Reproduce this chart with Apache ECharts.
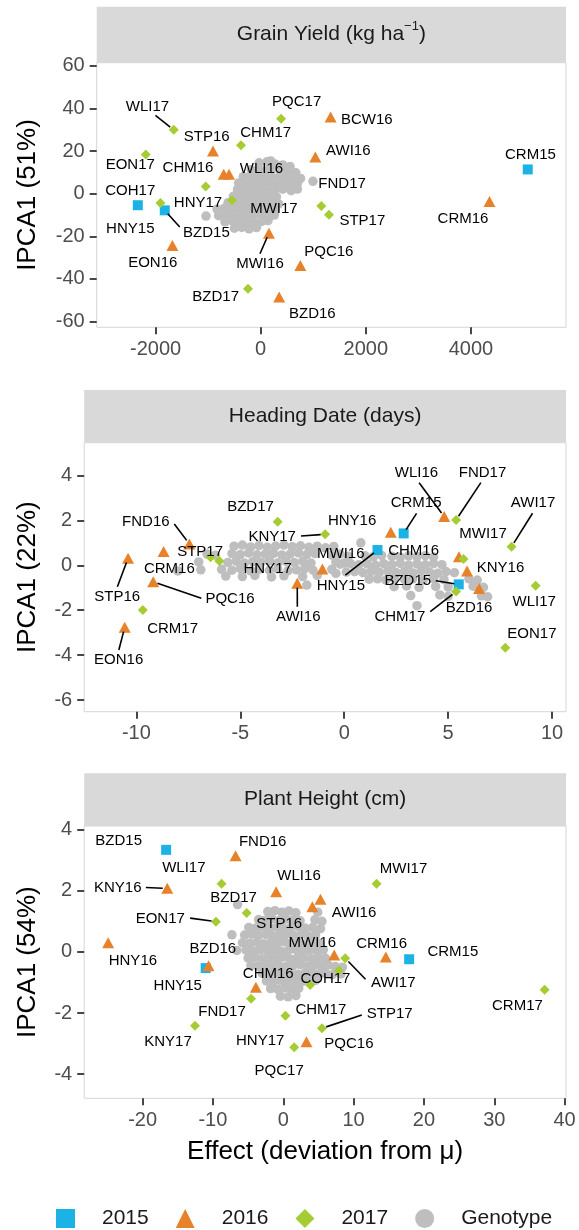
<!DOCTYPE html>
<html>
<head>
<meta charset="utf-8">
<script src="https://cdn.jsdelivr.net/npm/echarts@6/dist/echarts.min.js"></script>
<style>
  html, body { margin: 0; padding: 0; background: #fff; }
  #chart { width: 579px; height: 1230px; }
</style>
</head>
<body>
<div id="chart"></div>
<script>
const FONT = '"Liberation Sans", Arial, Helvetica, sans-serif';
const COLORS = { '2015': '#1BB3E6', '2016': '#E8822A', '2017': '#A6CC33', 'Genotype': '#BEBEBE' };

// ---------- Grain Yield (kg ha-1) ----------
const gyNames2015 = ['HNY15', 'BZD15', 'CRM15'];
const gyX2015 = [-2338, -1825, 5082];
const gyY2015 = [-5.4, -7.8, 11.4];
const gyNames2016 = ['STP16', 'CHM16', 'WLI16', 'AWI16', 'BCW16', 'MWI16', 'PQC16', 'BZD16', 'EON16', 'CRM16'];
const gyX2016 = [-907, -703, -602, 1040, 1331, 158, 755, 352, -1679, 4354];
const gyY2016 = [20, 9.1, 9.1, 17.2, 36, -18.5, -33.7, -48.5, -24.3, -3.6];
const gyNames2017 = ['WLI17', 'EON17', 'COH17', 'HNY17', 'MWI17', 'CHM17', 'PQC17', 'FND17', 'STP17', 'BZD17'];
const gyX2017 = [-1654, -2186, -1907, -1046, -545, -374, 388, 1154, 1299, -241];
const gyY2017 = [30, 18.4, -4.4, 3.4, -3.1, 22.7, 35.2, -5.8, -9.9, -44.6];
const gyGenotypes = [
  [-30,14.5],[120,15],[270,14],[420,13.5],[560,12.8],[190,15.4],
  [-180,11.2],[-40,11.5],[100,11],[240,11.8],[390,10.6],[530,10.2],[670,9.8],
  [-330,8],[-190,8.4],[-60,7.8],[80,8.2],[220,7.6],[360,8.3],[500,7.5],[640,7.9],[760,7.2],
  [-420,5],[-280,4.6],[-140,5.2],[0,4.8],[140,5.4],[280,4.5],[420,5.1],[560,4.4],[700,4.9],
  [-440,2],[-300,1.6],[-160,2.3],[-20,1.8],[120,2.4],[260,1.5],[420,2.1],[580,1.4],[700,2.2],
  [-520,-1.2],[-380,-0.8],[-240,-1.4],[-100,-0.9],[40,-1.3],[180,-0.7],[300,-1.5],
  [-620,-4.2],[-480,-3.8],[-340,-4.4],[-200,-3.9],[-60,-4.5],[80,-3.7],[220,-4.3],[340,-4.8],
  [-830,-7.2],[-690,-6.8],[-550,-7.4],[-410,-6.9],[-270,-7.5],[-130,-6.7],[10,-7.3],[150,-7],[280,-7.6],
  [-800,-10.3],[-660,-9.8],[-520,-10.4],[-380,-9.9],[-240,-10.5],[-100,-9.7],[40,-10.2],[170,-10.6],[260,-10],
  [-680,-13.2],[-540,-12.8],[-400,-13.4],[-260,-12.9],[-120,-13.5],[20,-13],[140,-12.6],
  [-500,-16.2],[-360,-15.8],[-220,-16.5],[-80,-15.9],
  [-1040,-10.5],[995,5.8]
];
const gyXTicks = [-2000, 0, 2000, 4000];
const gyYTicks = [-60, -40, -20, 0, 20, 40, 60];

// ---------- Heading Date (days) ----------
const hdNames2015 = ['HNY15', 'CRM15', 'BZD15'];
const hdX2015 = [1.60, 2.86, 5.51];
const hdY2015 = [0.68, 1.42, -0.85];
const hdNames2016 = ['STP16', 'EON16', 'CRM16', 'PQC16', 'FND16', 'MWI16', 'AWI16', 'HNY16', 'WLI16', 'CHM16', 'KNY16', 'BZD16'];
const hdX2016 = [-10.40, -10.56, -8.69, -9.19, -7.45, -1.05, -2.26, 2.24, 4.81, 5.52, 5.91, 6.49];
const hdY2016 = [0.31, -2.76, 0.61, -0.73, 0.95, -0.16, -0.80, 1.47, 2.17, 0.38, -0.25, -1.03];
const hdNames2017 = ['STP17', 'HNY17', 'BZD17', 'KNY17', 'CRM17', 'FND17', 'MWI17', 'CHM17', 'AWI17', 'WLI17', 'EON17'];
const hdX2017 = [-6.43, -6.01, -3.20, -0.92, -9.69, 5.38, 5.74, 5.38, 8.05, 9.21, 7.75];
const hdY2017 = [0.36, 0.19, 1.94, 1.38, -1.99, 2.02, 0.28, -1.17, 0.83, -0.91, -3.67];
const hdGenotypes = [
  [-5.3,0.85],[-4.9,0.9],[-4.5,0.82],[-4.1,0.88],[-3.7,0.8],[-3.3,0.86],[-2.9,0.9],[-2.5,0.83],[-2.1,0.87],[-1.7,0.8],[-1.3,0.85],[-0.9,0.78],[-0.5,0.84],
  [-6.6,0.5],[-6.2,0.45],[-5.4,0.52],[-5.0,0.48],[-4.6,0.55],[-4.2,0.47],[-3.8,0.5],[-3.4,0.53],[-3.0,0.46],[-2.6,0.5],[-2.2,0.55],[-1.8,0.48],[-1.4,0.52],[-0.6,0.45],[-0.2,0.5],
  [-7.0,0.15],[-5.6,0.12],[-5.2,0.18],[-4.8,0.1],[-4.4,0.16],[-4.0,0.13],[-3.6,0.2],[-3.2,0.1],[-2.8,0.17],[-2.4,0.12],[-2.0,0.18],[-1.6,0.1],[-0.4,0.15],[0.0,0.1],
  [-6.9,-0.2],[-5.9,-0.18],[-5.4,-0.22],[-5.0,-0.15],[-4.5,-0.25],[-4.1,-0.18],[-3.6,-0.22],[-3.2,-0.16],[-2.7,-0.24],[-2.3,-0.2],[-1.9,-0.15],[-1.5,-0.22],[-0.6,-0.18],
  [-5.7,-0.48],[-4.9,-0.5],[-4.3,-0.45],[-3.5,-0.52],[-2.9,-0.47],[-2.0,-0.5],[-1.3,-0.45],
  [-8.0,-0.25],[-1.8,-0.88],[-0.4,-0.36],
  [0.8,1.0],
  [0.2,0.4],[1.0,0.42],[1.4,0.38],[1.8,0.44],[2.3,0.4],[2.7,0.36],[3.1,0.42],[3.5,0.38],[3.9,0.43],[4.3,0.37],
  [-0.2,0.05],[0.3,0.08],[0.7,0.02],[1.1,0.06],[1.5,0.0],[1.9,0.07],[2.3,0.03],[2.7,0.08],[3.1,0.01],[3.5,0.06],[3.9,0.02],[4.3,0.07],[4.7,0.03],
  [0.1,-0.3],[0.5,-0.28],[0.9,-0.33],[1.3,-0.27],[1.7,-0.31],[2.1,-0.26],[2.5,-0.32],[2.9,-0.28],[3.3,-0.34],[3.7,-0.27],[4.1,-0.3],[4.5,-0.35],[4.9,-0.28],[5.3,-0.33],
  [1.2,-0.62],[1.6,-0.6],[2.0,-0.65],[2.4,-0.58],[2.9,-0.63],[3.3,-0.6],[3.8,-0.66],[4.3,-0.6],[4.8,-0.64],[6.0,-0.6],[6.4,-0.66],
  [2.4,-0.95],[3.0,-0.92],[3.6,-0.98],[4.4,-0.94],[5.0,-0.97],[6.2,-0.93],[6.7,-0.98],
  [3.2,-1.35],[4.6,-1.32],[5.0,-1.38],[6.6,-1.36],[6.9,-1.4],
  [3.5,-1.8]
];
const hdXTicks = [-10, -5, 0, 5, 10];
const hdYTicks = [-6, -4, -2, 0, 2, 4];

// ---------- Plant Height (cm) ----------
const phNames2015 = ['BZD15', 'HNY15', 'CRM15'];
const phX2015 = [-16.65, -11.03, 17.90];
const phY2015 = [3.34, -0.53, -0.24];
const phNames2016 = ['FND16', 'KNY16', 'WLI16', 'AWI16', 'STP16', 'HNY16', 'BZD16', 'MWI16', 'CRM16', 'CHM16', 'PQC16'];
const phX2016 = [-6.78, -16.49, -1.01, 5.29, 4.14, -24.89, -10.62, 7.24, 14.58, -3.89, 3.30];
const phY2016 = [3.15, 2.08, 1.97, 1.72, 1.48, 0.30, -0.45, -0.10, -0.17, -1.16, -2.94];
const phNames2017 = ['WLI17', 'MWI17', 'BZD17', 'EON17', 'AWI17', 'COH17', 'HNY17', 'CHM17', 'STP17', 'FND17', 'KNY17', 'PQC17', 'CRM17'];
const phX2017 = [-8.77, 13.27, -5.20, -9.57, 8.81, 7.92, 3.82, 0.31, 5.50, -4.58, -12.55, 1.56, 37.16];
const phY2017 = [2.23, 2.23, 1.27, 0.99, -0.21, -0.61, -1.08, -2.09, -2.50, -1.53, -2.42, -3.12, -1.24];
const phGenotypes = [
  [-6.5,1.55],
  [-2.2,1.32],[-1.2,1.35],[-0.2,1.3],[0.8,1.34],[1.8,1.28],[4.9,1.3],
  [-3.5,1.06],[-2.6,1.04],[-1.6,1.08],[-0.6,1.03],[0.4,1.07],[1.4,1.05],[2.4,1.02],[4.5,1.05],[5.5,1.0],
  [-4.9,0.8],[-3.9,0.78],[-2.9,0.82],[-1.9,0.79],[-0.9,0.81],[0.1,0.77],[1.1,0.8],[2.1,0.83],[3.1,0.78],[4.2,0.8],[5.3,0.76],
  [-7.3,0.56],[-5.5,0.55],[-4.5,0.58],[-3.5,0.54],[-2.5,0.57],[-1.5,0.53],[-0.5,0.56],[0.5,0.59],[1.5,0.54],[2.5,0.57],[3.5,0.53],[4.6,0.55],
  [-5.8,0.3],[-4.8,0.28],[-3.8,0.32],[-2.8,0.27],[-1.8,0.31],[-0.8,0.29],[0.2,0.33],[1.2,0.28],[2.2,0.3],[3.2,0.26],[4.2,0.31],[5.2,0.28],
  [-6.6,0.05],[-5.3,0.06],[-4.3,0.03],[-3.3,0.07],[-2.3,0.04],[-1.3,0.06],[-0.3,0.02],[0.7,0.05],[1.7,0.08],[2.7,0.03],[3.7,0.06],[4.7,0.04],[5.7,0.07],
  [-5.0,-0.2],[-4.0,-0.18],[-3.0,-0.22],[-2.0,-0.19],[-1.0,-0.21],[0.0,-0.17],[1.0,-0.23],[2.0,-0.2],[3.0,-0.18],[4.0,-0.22],[5.0,-0.19],[6.0,-0.21],
  [-4.6,-0.45],[-3.6,-0.47],[-2.6,-0.43],[-1.6,-0.46],[-0.6,-0.44],[0.4,-0.48],[1.4,-0.45],[2.4,-0.42],[3.4,-0.47],[4.4,-0.44],[5.4,-0.46],[6.4,-0.43],[7.4,-0.48],[8.4,-0.5],
  [-3.0,-0.7],[-2.0,-0.72],[-1.0,-0.68],[0.0,-0.71],[1.0,-0.69],[2.0,-0.73],[3.0,-0.7],[4.0,-0.68],[5.0,-0.72],[6.0,-0.7],[7.0,-0.74],[8.2,-0.72],
  [-2.4,-0.95],[-1.4,-0.97],[-0.4,-0.93],[0.6,-0.96],[1.6,-0.94],[2.6,-0.98],[3.6,-0.95],[4.6,-0.93],
  [-1.8,-1.2],[-0.8,-1.22],[0.2,-1.18],[1.2,-1.21],[2.2,-1.19],
  [-0.4,-1.45],[0.7,-1.47],[1.8,-1.43]
];
const phXTicks = [-20, -10, 0, 10, 20, 30, 40];
const phYTicks = [-4, -2, 0, 2, 4];

// ---------- label placement (pixel offsets from each point) ----------
const gyLabelPos = {
  HNY15: [-7.5, 23.6], BZD15: [41.7, 22.7], CRM15: [2.7, -14.7],
  STP16: [-6.3, -14], CHM16: [-35.7, -6.2], WLI16: [32.4, -5.6], AWI16: [33, -6], BCW16: [36.2, 2.7],
  MWI16: [-9, 30.6], PQC16: [28.5, -13.4], BZD16: [33.2, 16.7], EON16: [-19.7, 17.6], CRM16: [-26.5, 17.3],
  WLI17: [-26.3, -22.7], EON17: [-15.5, 10.2], COH17: [-30.2, -12.7], HNY17: [-7.7, 16.2], MWI17: [41.9, 8.4],
  CHM17: [24.7, -12.2], PQC17: [15.6, -16.6], FND17: [20.8, -22.4], STP17: [33.4, 6.3], BZD17: [-32.3, 8.4]
};
const gyLeaders = { BZD15: [15, 16.7], MWI16: [-9, 20.6], WLI17: [-18.3, -14.4] };

const hdLabelPos = {
  HNY15: [-36.6, 36], CRM15: [12.4, -30.1], BZD15: [-51, -3.7],
  STP16: [-10.9, 38.4], EON16: [-6.1, 32.7], CRM16: [5.7, 17.4], PQC16: [76.8, 17.6], FND16: [-43.5, -21.7],
  MWI16: [18.4, -14.6], AWI16: [1, 33.4], HNY16: [-38.7, -11.6], WLI16: [-27.7, -43.9], CHM16: [-45.4, -5.7],
  KNY16: [33.4, -2.6], BZD16: [-10, 19.9],
  STP17: [-10.5, -5.6], HNY17: [48.4, 8.3], BZD17: [-27.2, -15], KNY17: [-52.9, 2.4], CRM17: [29.8, 19.3],
  FND17: [26.5, -47.3], MWI17: [19.5, -25], CHM17: [-56.2, 25.1], AWI17: [21.5, -43.4], WLI17: [-1.4, 16],
  EON17: [26.6, -13.7]
};
const hdLeaders = {
  HNY15: [-32.1, 25], CRM15: [12.9, -20.1], BZD15: [-23, -3.7], STP16: [-10.7, 28.4], EON16: [-5.9, 22.7],
  PQC16: [48.1, 16.6], FND16: [-15.1, -20], AWI16: [0.1, 23.4], WLI16: [-25.1, -33.9], KNY17: [-24.1, 1.7],
  FND17: [24.8, -37.3], CHM17: [-25.8, 20.1], AWI17: [21, -33.4]
};

const phLabelPos = {
  BZD15: [-47.5, -9.3], HNY15: [-27.9, 17.8], CRM15: [43.7, -7],
  FND16: [27.1, -13.5], KNY16: [-49.5, -0.2], WLI16: [22.9, -15.8], AWI16: [33.6, 13.2], STP16: [-33.1, 17.2],
  HNY16: [24.7, 17.9], BZD16: [4.3, -16.7], MWI16: [-21.8, -11.8], CRM16: [-4.2, -13.2], CHM16: [12.4, -13.4],
  PQC16: [42.5, 2.2],
  WLI17: [-37.7, -15.6], MWI17: [26.9, -14.6], BZD17: [-13.1, -14.9], EON17: [-55.7, -2.8], AWI17: [48.1, 24.3],
  COH17: [-13.5, 8.7], HNY17: [-49.9, 55.7], CHM17: [35.4, -5.8], STP17: [67.8, -14.4], FND17: [-29, 13],
  KNY17: [-27, 15.8], PQC17: [-15.1, 23.7], CRM17: [-27.2, 16.1]
};
const phLeaders = { KNY16: [-21.4, -0.8], EON17: [-25.8, -3.5], AWI17: [20.3, 20.9], STP17: [39.9, -13.4] };

// ---------- panel layout ----------
const panels = [
  {
    title: '{t|Grain Yield (kg ha}{s|\u22121}{t|)}', yName: 'IPCA1 (51%)', yGap: 56,
    grid: { left: 96.7, top: 62.7, width: 469.3, height: 264.6 }, strip: { top: 6.7, height: 56 },
    xRange: [-3120, 5810], yRange: [-62.7, 61.5], xTicks: gyXTicks, yTicks: gyYTicks,
    years: [[gyNames2015, gyX2015, gyY2015], [gyNames2016, gyX2016, gyY2016], [gyNames2017, gyX2017, gyY2017]],
    genotypes: gyGenotypes, labelPos: gyLabelPos, leaders: gyLeaders
  },
  {
    title: '{t|Heading Date (days)}', yName: 'IPCA1 (22%)', yGap: 43.7,
    grid: { left: 84.2, top: 442.7, width: 481.8, height: 269 }, strip: { top: 390, height: 52.7 },
    xRange: [-12.51, 10.67], yRange: [-6.52, 5.46], xTicks: hdXTicks, yTicks: hdYTicks,
    years: [[hdNames2015, hdX2015, hdY2015], [hdNames2016, hdX2016, hdY2016], [hdNames2017, hdX2017, hdY2017]],
    genotypes: hdGenotypes, labelPos: hdLabelPos, leaders: hdLeaders
  },
  {
    title: '{t|Plant Height (cm)}', yName: 'IPCA1 (54%)', yGap: 43.7,
    grid: { left: 84.2, top: 826, width: 481.8, height: 272.3 }, strip: { top: 773.3, height: 52.7 },
    xRange: [-28.3, 40.2], yRange: [-4.79, 4.12], xTicks: phXTicks, yTicks: phYTicks,
    years: [[phNames2015, phX2015, phY2015], [phNames2016, phX2016, phY2016], [phNames2017, phX2017, phY2017]],
    genotypes: phGenotypes, labelPos: phLabelPos, leaders: phLeaders,
    xName: 'Effect (deviation from \u03bc)'
  }
];

const YEARS = ['2015', '2016', '2017'];
const SYMBOLS = { '2015': 'rect', '2016': 'triangle', '2017': 'diamond', 'Genotype': 'circle' };
const SIZES = { '2015': [10, 10], '2016': [12, 11], '2017': [10, 10], 'Genotype': 9.5 };

const tickStyle = { show: true, length: 7, lineStyle: { color: '#333333', width: 1.8 } };
const labelStyle = { color: '#4D4D4D', fontSize: 20, fontFamily: FONT, formatter: v => String(v) };

const grids = [], xAxes = [], yAxes = [], series = [], graphics = [];

panels.forEach((p, i) => {
  grids.push(Object.assign({ show: true, borderColor: '#D6D6D6', borderWidth: 1, backgroundColor: 'transparent' }, p.grid));

  xAxes.push({
    type: 'value', gridIndex: i, min: p.xRange[0], max: p.xRange[1], position: 'bottom',
    axisLine: { show: false, onZero: false }, splitLine: { show: false },
    axisTick: Object.assign({ customValues: p.xTicks }, tickStyle),
    axisLabel: Object.assign({ customValues: p.xTicks, margin: 12 }, labelStyle),
    name: p.xName || '', nameLocation: 'middle', nameGap: 41,
    nameTextStyle: { fontSize: 26, color: '#000', fontFamily: FONT }
  });
  yAxes.push({
    type: 'value', gridIndex: i, min: p.yRange[0], max: p.yRange[1], position: 'left',
    axisLine: { show: false, onZero: false }, splitLine: { show: false },
    axisTick: Object.assign({ customValues: p.yTicks }, tickStyle),
    axisLabel: Object.assign({ customValues: p.yTicks, margin: 12 }, labelStyle),
    name: p.yName, nameLocation: 'middle', nameGap: p.yGap,
    nameTextStyle: { fontSize: 26, color: '#000', fontFamily: FONT }
  });

  // genotype cloud
  series.push({
    type: 'scatter', name: 'Genotype', xAxisIndex: i, yAxisIndex: i, silent: true, z: 2,
    symbol: SYMBOLS.Genotype, symbolSize: SIZES.Genotype,
    itemStyle: { color: COLORS.Genotype, opacity: 1 },
    data: p.genotypes
  });

  // environments by year
  const allNames = [], allPts = [];
  p.years.forEach(([names, xs, ys], k) => {
    const yr = YEARS[k];
    const pts = xs.map((x, j) => [x, ys[j]]);
    series.push({
      type: 'scatter', name: yr, xAxisIndex: i, yAxisIndex: i, silent: true, z: 3,
      symbol: SYMBOLS[yr], symbolSize: SIZES[yr],
      itemStyle: { color: COLORS[yr], opacity: 1 },
      data: pts
    });
    names.forEach((n, j) => { allNames.push(n); allPts.push(pts[j]); });
  });

  // environment labels with leader segments
  series.push({
    type: 'custom', xAxisIndex: i, yAxisIndex: i, silent: true, z: 5, clip: false,
    data: allPts,
    renderItem(params, api) {
      const c = api.coord([api.value(0), api.value(1)]);
      const name = allNames[params.dataIndex];
      const off = p.labelPos[name] || [0, -14];
      const kids = [];
      const lead = p.leaders[name];
      if (lead) {
        const len = Math.hypot(lead[0], lead[1]);
        const s = 4.5 / len;
        kids.push({
          type: 'line',
          shape: { x1: c[0] + lead[0] * s, y1: c[1] + lead[1] * s, x2: c[0] + lead[0], y2: c[1] + lead[1] },
          style: { stroke: '#000', lineWidth: 1.6 }
        });
      }
      kids.push({
        type: 'text', x: c[0] + off[0], y: c[1] + off[1],
        style: { text: name, fill: '#000', fontSize: 15, fontFamily: FONT, align: 'center', verticalAlign: 'middle' }
      });
      return { type: 'group', children: kids };
    }
  });

  // facet strip
  graphics.push({
    type: 'rect', silent: true, z: 1,
    shape: { x: p.grid.left, y: p.strip.top, width: p.grid.width, height: p.strip.height },
    style: { fill: '#D9D9D9' }
  });
  graphics.push({
    type: 'text', silent: true, z: 2,
    x: p.grid.left + p.grid.width / 2, y: p.strip.top + p.strip.height / 2,
    style: {
      text: p.title, align: 'center', verticalAlign: 'middle',
      rich: {
        t: { fontSize: 21, fontFamily: FONT, fill: '#1A1A1A', lineHeight: 30 },
        s: { fontSize: 13, fontFamily: FONT, fill: '#1A1A1A', verticalAlign: 'top', lineHeight: 14 }
      }
    }
  });
});

const chart = echarts.init(document.getElementById('chart'), null, { renderer: 'canvas' });
chart.setOption({
  animation: false,
  backgroundColor: '#ffffff',
  textStyle: { fontFamily: FONT },
  grid: grids,
  xAxis: xAxes,
  yAxis: yAxes,
  legend: {
    data: [
      { name: '2015', icon: 'rect' },
      { name: '2016', icon: 'triangle' },
      { name: '2017', icon: 'diamond' },
      { name: 'Genotype', icon: 'circle' }
    ],
    left: 51, top: 1203, orient: 'horizontal',
    itemWidth: 19, itemHeight: 19, itemGap: 27, selectedMode: false,
    textStyle: { fontSize: 21, color: '#1A1A1A', fontFamily: FONT, padding: [0, 0, 0, 22] }
  },
  graphic: graphics,
  series: series
});
</script>
</body>
</html>
